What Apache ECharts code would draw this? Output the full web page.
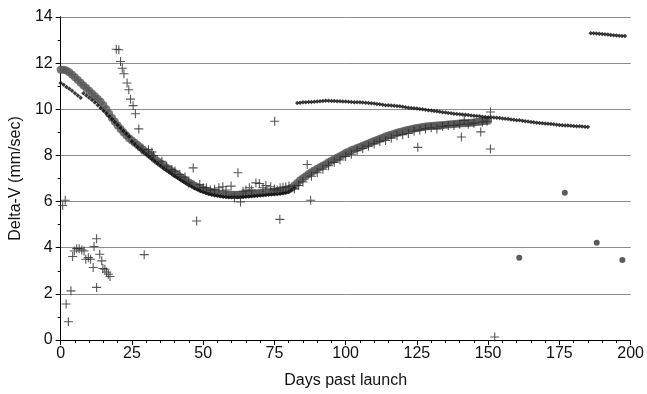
<!DOCTYPE html>
<html>
<head>
<meta charset="utf-8">
<script src="https://cdn.jsdelivr.net/npm/echarts@6/dist/echarts.min.js"></script>
<style>
  html, body { margin: 0; padding: 0; background: #fff; }
  #chart { width: 647px; height: 394px; }
</style>
</head>
<body>
<div id="chart"></div>
<script>
// ticks
var xTicks = [0, 25, 50, 75, 100, 125, 150, 175, 200];
var yTicks = [0, 2, 4, 6, 8, 10, 12, 14];

// gray band (large circles), one value per day from day 0
var grayStart = 0;
var grayVals = [
  11.71, 11.71, 11.68, 11.6, 11.5, 11.39, 11.27, 11.15, 11.03, 10.92,
  10.8, 10.68, 10.56, 10.45, 10.33, 10.17, 10.0, 9.81, 9.62, 9.46,
  9.3, 9.15, 9.0, 8.87, 8.75, 8.65, 8.55, 8.45, 8.35, 8.25,
  8.15, 8.05, 7.95, 7.85, 7.75, 7.66, 7.57, 7.48, 7.4, 7.31,
  7.22, 7.14, 7.06, 6.98, 6.9, 6.83, 6.76, 6.69, 6.63, 6.57,
  6.52, 6.48, 6.44, 6.41, 6.38, 6.36, 6.34, 6.32, 6.31, 6.3,
  6.3, 6.3, 6.3, 6.3, 6.31, 6.32, 6.33, 6.34, 6.35, 6.36,
  6.37, 6.38, 6.4, 6.41, 6.42, 6.43, 6.44, 6.45, 6.47, 6.49,
  6.52, 6.6, 6.7, 6.81, 6.92, 7.01, 7.1, 7.19, 7.27, 7.35,
  7.42, 7.49, 7.55, 7.62, 7.7, 7.77, 7.83, 7.9, 7.96, 8.03,
  8.1, 8.16, 8.22, 8.27, 8.32, 8.37, 8.42, 8.47, 8.52, 8.57,
  8.62, 8.67, 8.72, 8.77, 8.82, 8.86, 8.9, 8.94, 8.98, 9.02,
  9.05, 9.08, 9.11, 9.14, 9.17, 9.19, 9.21, 9.23, 9.25, 9.27,
  9.28, 9.29, 9.3, 9.31, 9.32, 9.33, 9.34, 9.35, 9.36, 9.37,
  9.38, 9.39, 9.4, 9.41, 9.42, 9.43, 9.45, 9.46, 9.48, 9.49,
  9.5
];

// small black dots, first run (day 0 - 82)
var dots1Start = 0;
var dots1Vals = [
  11.14, 11.06, 10.97, 10.89, 10.8, 10.7, 10.6, 10.5, 10.7, 10.6,
  10.5, 10.4, 10.29, 10.18, 10.06, 9.94, 9.82, 9.7, 9.58, 9.45,
  9.32, 9.19, 9.06, 8.94, 8.82, 8.6, 8.48, 8.37, 8.26, 8.15,
  8.05, 7.95, 7.85, 7.75, 7.65, 7.55, 7.46, 7.37, 7.28, 7.19,
  7.11, 7.03, 6.95, 6.87, 6.79, 6.72, 6.65, 6.58, 6.52, 6.46,
  6.41, 6.37, 6.33, 6.3, 6.27, 6.25, 6.23, 6.21, 6.2, 6.19,
  6.19, 6.19, 6.19, 6.19, 6.2, 6.21, 6.22, 6.23, 6.24, 6.25,
  6.26, 6.27, 6.29, 6.3, 6.31, 6.32, 6.33, 6.34, 6.36, 6.38,
  6.42, 6.5, 6.6
];

// small black dots, second run (day 83 - 185)
var dots2Start = 83;
var dots2Vals = [
  10.27, 10.28, 10.3, 10.31, 10.32, 10.32, 10.33, 10.34, 10.35, 10.36,
  10.37, 10.37, 10.36, 10.36, 10.35, 10.35, 10.34, 10.34, 10.33, 10.32,
  10.31, 10.3, 10.3, 10.29, 10.28, 10.27, 10.26, 10.25, 10.23, 10.22,
  10.2, 10.18, 10.17, 10.16, 10.15, 10.14, 10.13, 10.11, 10.09, 10.07,
  10.06, 10.04, 10.03, 10.01, 10.0, 9.98, 9.96, 9.95, 9.93, 9.91,
  9.89, 9.87, 9.86, 9.84, 9.83, 9.81, 9.8, 9.78, 9.77, 9.76,
  9.75, 9.73, 9.72, 9.71, 9.7, 9.68, 9.67, 9.66, 9.65, 9.64,
  9.63, 9.62, 9.6, 9.59, 9.58, 9.56, 9.55, 9.53, 9.52, 9.5,
  9.48, 9.47, 9.45, 9.44, 9.42, 9.41, 9.4, 9.38, 9.37, 9.36,
  9.35, 9.33, 9.32, 9.31, 9.3, 9.3, 9.29, 9.28, 9.27, 9.26,
  9.25, 9.24, 9.23
];

// small black dots, third run (day 186 - 198)
var dots3Start = 186;
var dots3Vals = [13.3, 13.3, 13.28, 13.27, 13.26, 13.25, 13.24, 13.22, 13.21, 13.2, 13.19, 13.18, 13.18];

// plus markers [day, delta-v]
var plusPts = [
  [0.7, 5.83], [1.6, 6.06], [1.9, 1.56], [2.7, 0.79], [3.6, 2.13], [4.2, 3.62],
  [4.8, 3.86], [5.6, 3.96], [6.5, 3.96], [7.4, 3.9], [8.2, 3.86], [8.8, 3.5],
  [9.7, 3.57], [10.5, 3.5], [11.4, 3.14], [11.7, 4.05], [12.6, 4.39], [12.6, 2.28],
  [13.7, 3.72], [14.4, 3.43], [14.8, 3.1], [15.5, 3.07], [16.1, 2.95], [16.7, 2.85],
  [17.3, 2.75],
  [19.5, 12.6], [20.4, 12.58], [21, 12.07], [21.6, 11.78], [22.2, 11.54], [23.3, 11.14],
  [23.9, 10.85], [24.5, 10.44], [25.4, 10.16], [26.2, 9.81], [27.4, 9.15], [28.5, 8.25],
  [29.3, 3.7], [30.8, 8.25], [32, 8.15], [32.6, 8.0], [35.5, 7.75], [37.2, 7.53],
  [39, 7.39], [40.1, 7.32], [41.8, 7.17], [43.6, 7.06], [44.8, 6.81], [46.5, 7.46],
  [47.7, 5.16], [48.8, 6.74], [50, 6.6], [51.1, 6.6], [52.5, 6.5], [54, 6.53],
  [55.5, 6.6], [56.9, 6.64], [58, 6.5], [59.8, 6.67], [61, 6.16], [62.2, 7.25],
  [63.1, 5.98], [64, 6.45], [65, 6.5], [66.2, 6.6], [67, 6.5], [68.5, 6.81],
  [69.7, 6.78], [71, 6.6], [72, 6.7], [73.7, 6.64], [75.1, 9.48], [75, 6.55],
  [76, 6.5], [76.9, 5.23], [77, 6.6], [78, 6.62], [79, 6.64], [80.1, 6.67],
  [82, 6.55], [83.5, 6.7], [85, 6.85], [86.5, 7.61], [87.7, 6.06], [88, 7.1],
  [90, 7.25], [92, 7.4], [94, 7.55], [96, 7.7], [98, 7.8], [100, 7.95],
  [102, 8.05], [104, 8.2], [106, 8.3], [108, 8.4], [110, 8.5], [112, 8.6],
  [114, 8.65], [116, 8.75], [118, 8.85], [120, 8.9], [122, 8.95], [124, 9.05],
  [125.3, 8.35], [126, 9.1], [128, 9.15], [130, 9.2], [132, 9.15], [134, 9.25],
  [136, 9.3], [138, 9.3], [140, 9.35], [140.6, 8.8], [141.6, 9.52], [143, 9.35],
  [145, 9.4], [147.4, 9.02], [148, 9.45], [149.6, 9.48], [150.8, 9.88], [150.8, 8.28],
  [152.3, 0.13]
];

// isolated large dots
var bigDots = [[160.9, 3.56], [176.9, 6.38], [188.1, 4.22], [197.1, 3.47]];

function toPairs(start, vals) {
  return vals.map(function (v, i) { return [start + i, v]; });
}

var font = '"Liberation Sans", Arial, sans-serif';
var plusPath = 'path://M4.4,0h1.2v10h-1.2zM0,4.4h10v1.2h-10z';

var option = {
  animation: false,
  backgroundColor: '#fff',
  grid: { left: 58, right: 14, top: 17, bottom: 53 },
  xAxis: {
    type: 'value',
    min: 0, max: 200, interval: 25,
    name: 'Days past launch',
    nameLocation: 'middle',
    nameGap: 33,
    nameTextStyle: { fontFamily: font, fontSize: 16, color: '#111' },
    axisLine: { show: true, onZero: false, lineStyle: { color: '#000', width: 1 } },
    axisTick: { show: true, length: 5, lineStyle: { color: '#000' } },
    minorTick: { show: true, splitNumber: 5, length: 3, lineStyle: { color: '#000' } },
    axisLabel: {
      fontFamily: font, fontSize: 16, color: '#111', margin: 6,
      formatter: function (v) { return xTicks.indexOf(v) >= 0 ? String(v) : ''; }
    },
    splitLine: { show: false }
  },
  yAxis: [{
    type: 'value',
    min: 0, max: 14, interval: 2,
    name: 'Delta-V (mm/sec)',
    nameLocation: 'middle',
    nameGap: 31,
    nameTextStyle: { fontFamily: font, fontSize: 16, color: '#111' },
    axisLine: { show: true, onZero: false, lineStyle: { color: '#000', width: 1 } },
    axisTick: { show: true, length: 5, lineStyle: { color: '#000' } },
    minorTick: { show: true, splitNumber: 2, length: 3, lineStyle: { color: '#000' } },
    axisLabel: {
      fontFamily: font, fontSize: 16, color: '#111', margin: 8,
      formatter: function (v) { return yTicks.indexOf(v) >= 0 ? String(v) : ''; }
    },
    splitLine: { show: true, lineStyle: { color: '#8c8c8c', width: 1 } }
  }, {
    type: 'value',
    position: 'right',
    min: 0, max: 14, interval: 2,
    axisLine: { show: true, lineStyle: { color: '#000', width: 1 } },
    axisTick: { show: false },
    axisLabel: { show: false },
    splitLine: { show: false }
  }],
  series: [
    {
      type: 'scatter',
      data: toPairs(grayStart, grayVals),
      symbol: 'circle',
      symbolSize: 8,
      itemStyle: { color: '#585858' },
      z: 2
    },
    {
      type: 'scatter',
      data: toPairs(dots1Start, dots1Vals)
        .concat(toPairs(dots2Start, dots2Vals))
        .concat(toPairs(dots3Start, dots3Vals)),
      symbol: 'diamond',
      symbolSize: 4.5,
      itemStyle: { color: '#0a0a0a' },
      z: 3
    },
    {
      type: 'scatter',
      data: plusPts,
      symbol: plusPath,
      symbolSize: 9,
      itemStyle: { color: '#2a2a2a' },
      z: 4
    },
    {
      type: 'scatter',
      data: bigDots,
      symbol: 'circle',
      symbolSize: 6,
      itemStyle: { color: '#333' },
      z: 4
    }
  ]
};

var myChart = echarts.init(document.getElementById('chart'));
myChart.setOption(option);
</script>
</body>
</html>
